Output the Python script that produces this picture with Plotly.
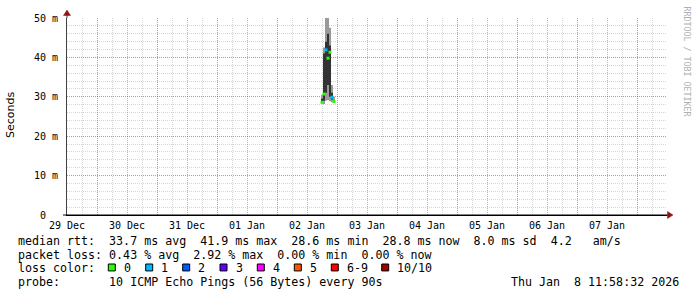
import plotly.graph_objects as go
import pandas as pd

# ---------------- data ----------------
sample_times = ["2026-01-02 06:00", "2026-01-02 06:48", "2026-01-02 07:36",
                "2026-01-02 08:24", "2026-01-02 09:12", "2026-01-02 10:00",
                "2026-01-02 10:48"]
ping_min = [28.3, 28.2, 29.0, 29.2, 28.9, 28.6, 28.4]
ping_q1 = [28.5, 29.0, 31.0, 33.0, 30.0, 29.3, 28.6]
ping_q3 = [29.5, 41.0, 44.0, 46.0, 43.0, 31.0, 29.2]
ping_max = [30.5, 42.5, 52.0, 52.0, 47.5, 33.0, 30.0]
median_rtt = [28.6, 30.7, 41.9, 39.8, 41.3, 29.9, 28.8]
loss_level = [0, 0, 1, 0, 0, 1, 0]

loss_labels = ["0", "1", "2", "3", "4", "5", "6-9", "10/10"]
loss_colors = ["#26ff00", "#00b8ff", "#0059ff", "#5e00ff", "#ff00ff",
               "#ff5500", "#ff0000", "#a10000"]

day_ticks = ["2025-12-29", "2025-12-30", "2025-12-31", "2026-01-01", "2026-01-02",
             "2026-01-03", "2026-01-04", "2026-01-05", "2026-01-06", "2026-01-07"]
day_labels = ["29 Dec", "30 Dec", "31 Dec", "01 Jan", "02 Jan",
              "03 Jan", "04 Jan", "05 Jan", "06 Jan", "07 Jan"]
noon_ticks = [d + " 12:00" for d in day_ticks]
y_ticks = [0, 10, 20, 30, 40, 50]
y_labels = ["0\u00a0\u00a0", "10 m", "20 m", "30 m", "40 m", "50 m"]
x_range = ["2025-12-29", "2026-01-08"]

legend_rtt = "median rtt:  33.7 ms avg  41.9 ms max  28.6 ms min  28.8 ms now  8.0 ms sd  4.2   am/s"
legend_loss = "packet loss: 0.43 % avg  2.92 % max  0.00 % min  0.00 % now"
legend_probe = "probe:       10 ICMP Echo Pings (56 Bytes) every 90s"
stamp = "Thu Jan  8 11:58:32 2026"
watermark = "RRDTOOL / TOBI OETIKER"

# ---------------- layout helpers ----------------
W, H = 697, 297
L, R, T, B = 67, 30, 16, 82
PW, PH = W - L - R, H - T - B
def xp(px): return (px - L) / PW
def yp(py): return (H - B - py) / PH
def nb(s): return s.replace(" ", "\u00a0")

MONO = "DejaVu Sans Mono"
bar_w = 0.8 * 3600 * 1000

fig = go.Figure()
outer_h = [a - b for a, b in zip(ping_max, ping_min)]
inner_h = [a - b for a, b in zip(ping_q3, ping_q1)]
fig.add_trace(go.Bar(x=pd.to_datetime(sample_times), y=outer_h, base=ping_min, width=bar_w,
                     marker=dict(color="#9a9a9a", line=dict(width=0)), showlegend=False))
fig.add_trace(go.Bar(x=pd.to_datetime(sample_times), y=inner_h, base=ping_q1, width=bar_w,
                     marker=dict(color="#333333", line=dict(width=0)), showlegend=False))
fig.add_trace(go.Scatter(x=pd.to_datetime(sample_times), y=median_rtt, mode="markers",
                         marker=dict(symbol="square", size=3,
                                     color=[loss_colors[l] for l in loss_level],
                                     line=dict(width=0)), showlegend=False))
# invisible trace for the overlay axis that carries the noon grid
fig.add_trace(go.Scatter(x=x_range, y=[None, None], xaxis="x2", showlegend=False,
                         hoverinfo="skip"))

GRID = "rgba(120,120,120,0.30)"
MGRID = "rgba(230,0,0,0.36)"
DOT = "1px,1px"

fig.update_layout(
    width=W, height=H, margin=dict(l=L, r=R, t=T, b=B),
    paper_bgcolor="white", plot_bgcolor="white", barmode="overlay",
    font=dict(family=MONO, size=10, color="black"),
    xaxis=dict(type="date", range=x_range, tickvals=day_ticks, ticktext=day_labels,
               showgrid=True, gridcolor=GRID, griddash=DOT, gridwidth=1,
               minor=dict(dtick=6 * 3600 * 1000, tick0="2025-12-29", showgrid=True,
                          gridcolor=GRID, griddash=DOT, gridwidth=1),
               showline=True, linecolor="black", linewidth=1, ticks="",
               zeroline=False, tickfont=dict(family=MONO, size=10), tickangle=0,
               ticklabelstandoff=1, fixedrange=True),
    xaxis2=dict(type="date", range=x_range, overlaying="x", tickvals=noon_ticks,
                showticklabels=False, showgrid=True, gridcolor=MGRID, griddash=DOT,
                gridwidth=1, ticks="", showline=False, zeroline=False),
    yaxis=dict(range=[0, 50], tickvals=y_ticks, ticktext=y_labels,
               showgrid=True, gridcolor=MGRID, griddash=DOT, gridwidth=1,
               minor=dict(dtick=2, showgrid=True, gridcolor=GRID, griddash=DOT, gridwidth=1),
               showline=True, linecolor="#404040", linewidth=1, ticks="",
               zeroline=False, tickfont=dict(family=MONO, size=10),
               ticklabelstandoff=6, fixedrange=True),
)

ann = []
ann.append(dict(text="Seconds", x=xp(10), y=yp(114), xref="paper", yref="paper",
                showarrow=False, textangle=-90, xanchor="center", yanchor="middle",
                font=dict(family="DejaVu Sans", size=11, color="black")))
ann.append(dict(text=nb(watermark), x=xp(687), y=yp(60), xref="paper", yref="paper",
                showarrow=False, textangle=90, xanchor="center", yanchor="middle",
                font=dict(family=MONO, size=8.3, color="#b0b0b0")))
LEG = 11.65
for txt, py in [(legend_rtt, 241), (legend_loss, 255.5), ("loss color:", 268.5),
                (legend_probe, 283)]:
    ann.append(dict(text=nb(txt), x=xp(16), y=yp(py), xref="paper", yref="paper",
                    showarrow=False, xanchor="left", yanchor="middle",
                    font=dict(family=MONO, size=LEG, color="black")))
ann.append(dict(text=nb(stamp), x=xp(681), y=yp(283), xref="paper", yref="paper",
                showarrow=False, xanchor="right", yanchor="middle",
                font=dict(family=MONO, size=LEG, color="black")))

shapes = []
box_left = [108.3, 145.7, 182.7, 220.0, 257.3, 294.3, 331.3, 381.7]
for bx, lab, col in zip(box_left, loss_labels, loss_colors):
    shapes.append(dict(type="rect", xref="paper", yref="paper",
                       x0=xp(bx), x1=xp(bx + 7), y0=yp(271.5), y1=yp(264.5),
                       fillcolor=col, line=dict(color="black", width=1)))
    ann.append(dict(text=nb(lab), x=xp(bx + 13.5), y=yp(268.5), xref="paper", yref="paper",
                    showarrow=False, xanchor="left", yanchor="middle",
                    font=dict(family=MONO, size=LEG, color="black")))

ARROW = "#8e1414"
# axis extensions and arrow heads
shapes.append(dict(type="line", xref="paper", yref="paper", x0=xp(67), x1=xp(67),
                   y0=yp(16), y1=yp(12), line=dict(color="#404040", width=1)))
shapes.append(dict(type="line", xref="paper", yref="paper", x0=xp(63), x1=xp(668),
                   y0=yp(215), y1=yp(215), line=dict(color="black", width=1)))
shapes.append(dict(type="path", xref="paper", yref="paper",
                   path=f"M {xp(667.5)} {yp(211.5)} L {xp(673)} {yp(215)} L {xp(667.5)} {yp(218.5)} Z",
                   fillcolor=ARROW, line=dict(color=ARROW, width=0.5)))
shapes.append(dict(type="path", xref="paper", yref="paper",
                   path=f"M {xp(63.5)} {yp(13.5)} L {xp(67)} {yp(8)} L {xp(70.5)} {yp(13.5)} Z",
                   fillcolor=ARROW, line=dict(color=ARROW, width=0.5)))

fig.update_layout(annotations=ann, shapes=shapes)
fig.write_html("out.html")
